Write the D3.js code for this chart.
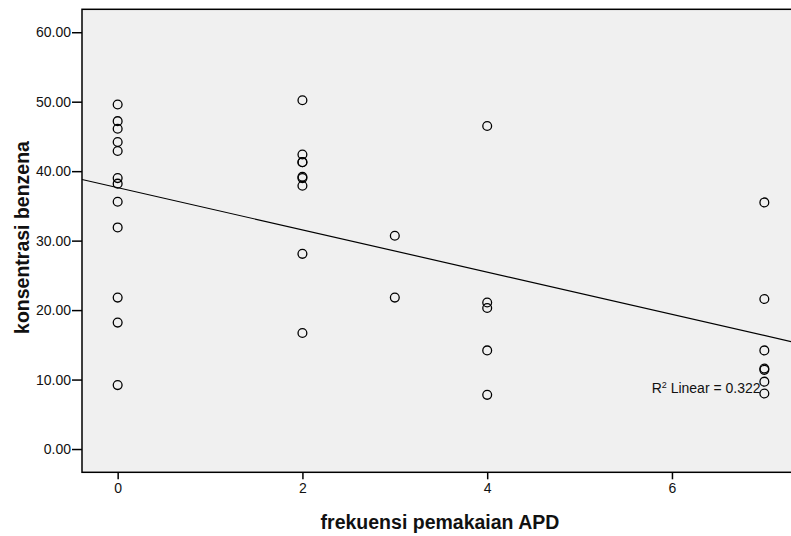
<!DOCTYPE html>
<html>
<head>
<meta charset="utf-8">
<script src="https://cdn.jsdelivr.net/npm/d3@7"></script>
<style>
  body { margin: 0; background: #fff; }
  svg { display: block; font-family: "Liberation Sans", Arial, sans-serif; }
</style>
</head>
<body>
<div id="chart-container"></div>
<script>
// data
const frekuensi = [
  0, 0, 0, 0, 0, 0, 0, 0, 0, 0, 0, 0,
  2, 2, 2, 2, 2, 2, 2, 2, 2,
  3, 3,
  4, 4, 4, 4, 4,
  7, 7, 7, 7, 7, 7, 7
];
const benzena = [
  49.6, 47.2, 46.1, 44.2, 42.9, 39.0, 38.2, 35.6, 31.9, 21.8, 18.2, 9.2,
  50.2, 42.4, 41.3, 41.3, 39.2, 39.0, 37.9, 28.1, 16.7,
  30.7, 21.8,
  46.5, 21.1, 20.3, 14.2, 7.8,
  35.5, 21.6, 14.2, 11.6, 11.4, 9.7, 8.0
];
const xTicks = [0, 2, 4, 6];
const yTicks = [0, 10, 20, 30, 40, 50, 60];
// linear fit shown on the chart
const fitIntercept = 37.63;
const fitSlope = -3.04;
const r2Text = "0.322";

const xLabel = "frekuensi pemakaian APD";
const yLabel = "konsentrasi benzena";

// set dimensions
const width = 791;
const height = 536;
const plot = { left: 82, right: 800, top: 9.3, bottom: 472.3 };

const x = d3.scaleLinear().domain([-0.386, 7.386]).range([plot.left, plot.right]);
const y = d3.scaleLinear().domain([-3.35, 63.3]).range([plot.bottom, plot.top]);

const svg = d3.select("#chart-container")
  .append("svg")
  .attr("width", width)
  .attr("height", height);

// plot background and frame
svg.append("rect")
  .attr("x", plot.left)
  .attr("y", plot.top)
  .attr("width", plot.right - plot.left)
  .attr("height", plot.bottom - plot.top)
  .attr("fill", "#f0f0f0")
  .attr("stroke", "#000")
  .attr("stroke-width", 1.5);

// y axis
const yAxis = svg.append("g")
  .attr("transform", `translate(${plot.left},0)`)
  .call(d3.axisLeft(y).tickValues(yTicks).tickFormat(d3.format(".2f")).tickSize(10).tickPadding(1));
yAxis.select(".domain").remove();
yAxis.selectAll("line").attr("stroke", "#000").attr("stroke-width", 1.5);
yAxis.selectAll("text")
  .attr("fill", "#111")
  .style("font-size", "14px")
  .style("font-family", "Liberation Sans, Arial, sans-serif");

// x axis
const xAxis = svg.append("g")
  .attr("transform", `translate(0,${plot.bottom})`)
  .call(d3.axisBottom(x).tickValues(xTicks).tickFormat(d3.format("d")).tickSize(7).tickPadding(4));
xAxis.select(".domain").remove();
xAxis.selectAll("line").attr("stroke", "#000").attr("stroke-width", 1.5);
xAxis.selectAll("text")
  .attr("fill", "#111")
  .style("font-size", "14px")
  .style("font-family", "Liberation Sans, Arial, sans-serif");

// fit line
const fitLine = d3.line()
  .x(d => x(d))
  .y(d => y(fitIntercept + fitSlope * d));

svg.append("path")
  .datum(x.domain())
  .attr("d", fitLine)
  .attr("fill", "none")
  .attr("stroke", "#000")
  .attr("stroke-width", 1.2);

// points
svg.append("g")
  .selectAll("circle")
  .data(frekuensi.map((f, i) => ({ f: f, b: benzena[i] })))
  .join("circle")
  .attr("cx", d => x(d.f))
  .attr("cy", d => y(d.b))
  .attr("r", 4.4)
  .attr("fill", "none")
  .attr("stroke", "#000")
  .attr("stroke-width", 1.3);

// R2 annotation
const r2 = svg.append("text")
  .attr("x", x(5.78))
  .attr("y", y(8.05))
  .style("font-size", "14px")
  .attr("fill", "#111");
r2.append("tspan").text("R");
r2.append("tspan").attr("dy", -5).style("font-size", "9px").text("2");
r2.append("tspan").attr("dy", 5).text(" Linear = " + r2Text);

// axis titles
svg.append("text")
  .attr("x", 440)
  .attr("y", 529)
  .style("text-anchor", "middle")
  .style("font-size", "19.5px")
  .style("font-weight", "bold")
  .attr("fill", "#111")
  .text(xLabel);

svg.append("text")
  .attr("transform", "translate(28.5,237.5) rotate(-90)")
  .style("text-anchor", "middle")
  .style("font-size", "19.5px")
  .style("font-weight", "bold")
  .attr("fill", "#111")
  .text(yLabel);
</script>
</body>
</html>
